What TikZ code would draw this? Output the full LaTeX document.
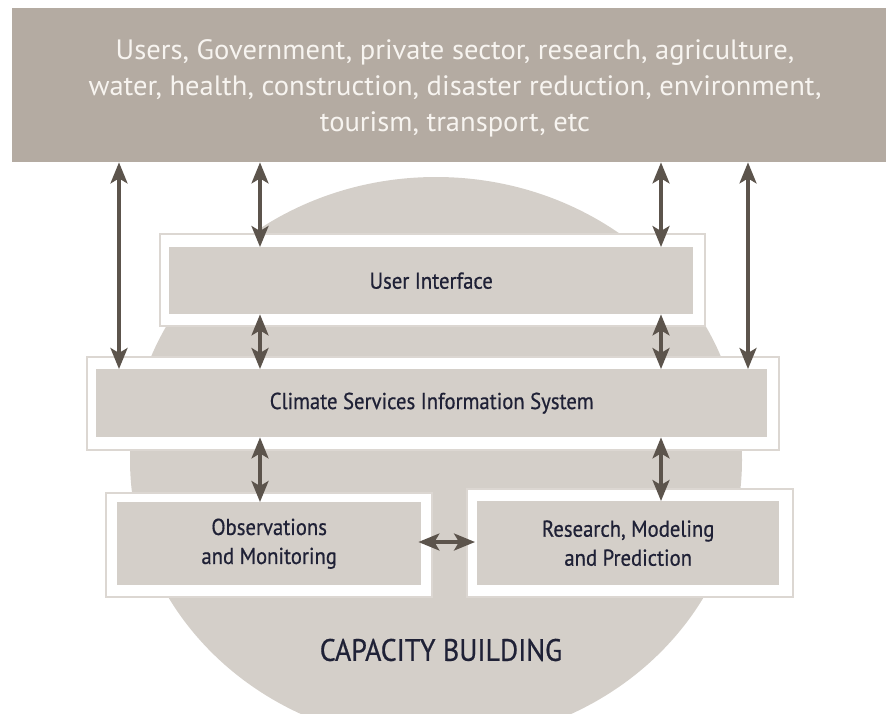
\documentclass[tikz,border=0pt]{standalone}
\usepackage{fontspec}
\setmainfont{PT Sans}
\newfontfamily\banfont[FakeStretch=1.02]{PT Sans}
\newfontfamily\boxfont[FakeStretch=0.9,FakeBold=0.6]{PT Sans}
\usetikzlibrary{arrows.meta}
\definecolor{bannerc}{HTML}{B4ABA2}
\definecolor{lightc}{HTML}{D4CFC9}
\definecolor{arrowc}{HTML}{5C544C}
\definecolor{textc}{HTML}{1F2136}
\definecolor{framec}{HTML}{DCD7D2}
\definecolor{bantext}{HTML}{F7F4F0}
\tikzset{
  outerbox/.style={draw=framec, line width=1.5pt, fill=white, inner sep=0pt, anchor=north west},
  innerbox/.style={fill=lightc, inner sep=0pt, anchor=north west, text=textc, font=\boxfont\fontsize{23}{29}\selectfont, align=center},
  arr/.style={draw=arrowc, line width=3.2pt, {Stealth[length=21pt,width=17pt,inset=5pt]}-{Stealth[length=21pt,width=17pt,inset=5pt]}},
}
\begin{document}
\begin{tikzpicture}[x=1pt,y=-1pt]
\useasboundingbox (0,0) rectangle (886,713);
% capacity building ellipse
\fill[lightc] (436,460) ellipse [x radius=306, y radius=283];
% banner
\node[fill=bannerc, inner sep=0pt, anchor=north west, minimum width=874pt, minimum height=154pt] (banner) at (12,8) {};
\node[text=bantext, font=\banfont\fontsize{28}{36}\selectfont, align=center] (bantxt) at (455,88)
  {Users, Government, private sector, research, agriculture,\\
   water, health, construction, disaster reduction, environment,\\
   tourism, transport, etc};
% outer frames
\node[outerbox, minimum width=545pt, minimum height=92pt] (uiO) at (159,233) {};
\node[outerbox, minimum width=692pt, minimum height=93pt] (csO) at (86,356) {};
\node[outerbox, minimum width=326pt, minimum height=104pt] (obO) at (105,492) {};
\node[outerbox, minimum width=326pt, minimum height=108pt] (reO) at (466,488) {};
% inner boxes
\node[innerbox, minimum width=524pt, minimum height=67pt] (ui) at (169,247) {User Interface};
\node[innerbox, minimum width=671pt, minimum height=68pt] (cs) at (96,369) {Climate Services Information System};
\node[innerbox, minimum width=304pt, minimum height=83pt] (ob) at (117,502) {Observations\\and Monitoring};
\node[innerbox, minimum width=302pt, minimum height=84pt] (re) at (477,501) {Research, Modeling\\and Prediction};
% label
\node[text=textc, font=\boxfont\fontsize{31}{36}\selectfont] (cap) at (441,650) {CAPACITY BUILDING};
% arrow columns
\coordinate (c1) at (119,0);
\coordinate (c2) at (260,0);
\coordinate (c3) at (661,0);
\coordinate (c4) at (748,0);
\coordinate (r1) at (0,542);
\draw[arr] (banner.south -| c1) -- (cs.north -| c1);
\draw[arr] (banner.south -| c2) -- (ui.north -| c2);
\draw[arr] (banner.south -| c3) -- (ui.north -| c3);
\draw[arr] (banner.south -| c4) -- (cs.north -| c4);
\draw[arr] (ui.south -| c2) -- (cs.north -| c2);
\draw[arr] (ui.south -| c3) -- (cs.north -| c3);
\draw[arr] (cs.south -| c2) -- (ob.north -| c2);
\draw[arr] (cs.south -| c3) -- (re.north -| c3);
\draw[arr] ([xshift=-3pt]ob.east |- r1) -- ([xshift=-2pt]re.west |- r1);
\end{tikzpicture}
\end{document}
